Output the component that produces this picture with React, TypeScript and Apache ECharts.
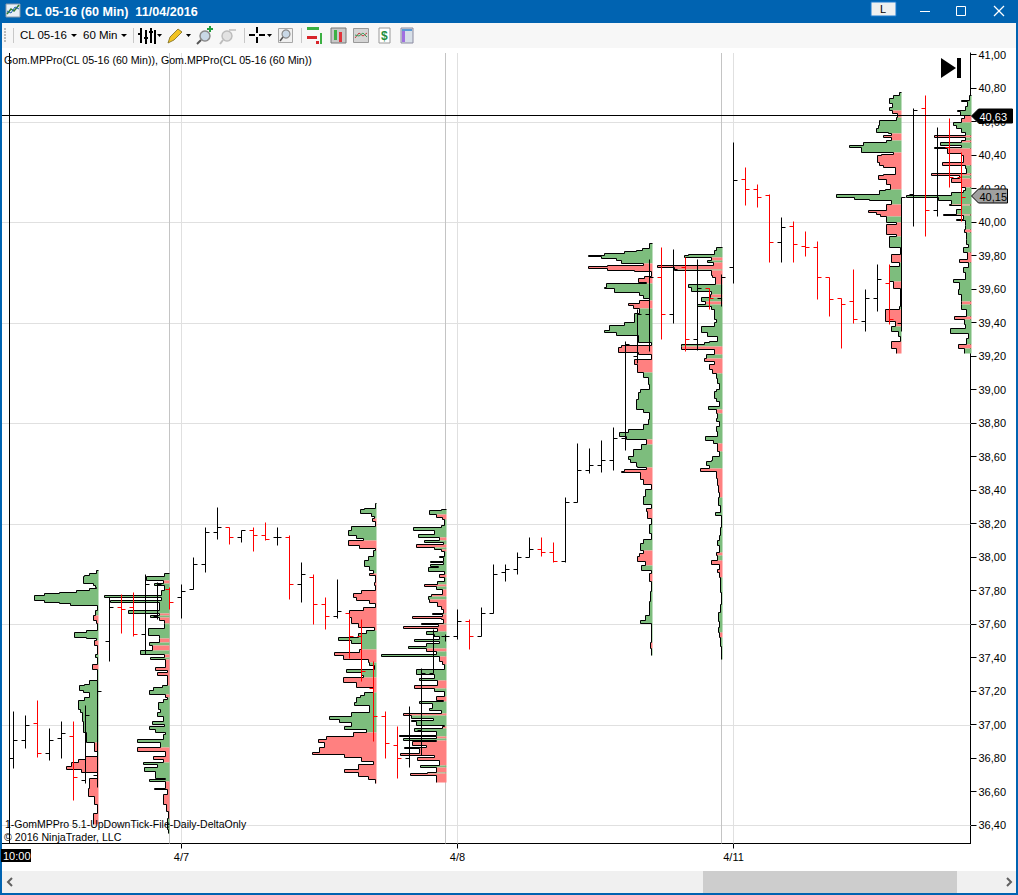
import React, { useEffect, useRef } from "react";
import * as echarts from "echarts";

// ---------- hourly OHLC bars (one per 12 px slot) ----------
const barOpen = [36.80,36.91,37.01,36.83,36.92,36.93,36.67,36.70,37.50,37.70,37.70,37.54,37.65,37.81,37.76,37.81,37.96,38.15,38.18,38.12,38.16,38.13,38.12,38.12,37.84,37.88,37.72,37.65,37.67,37.53,37.22,37.05,36.88,36.80,36.97,37.31,37.53,37.53,37.62,37.53,37.67,37.91,37.93,38.00,38.05,38.03,37.98,38.33,38.52,38.55,38.58,38.71,39.20,39.45,39.67,39.45,39.73,39.30,39.61,39.55,39.73,40.26,40.20,40.16,39.88,39.98,39.86,39.85,39.67,39.55,39.53,39.41,39.55,39.64,39.40,40.17,40.68,40.07,40.45,40.27];
const barHigh = [37.08,37.06,37.15,36.98,37.02,37.02,37.12,37.27,37.76,37.78,37.79,37.90,37.85,37.82,37.84,38.00,38.18,38.30,38.18,38.16,38.18,38.21,38.18,38.13,37.97,37.90,37.76,37.87,37.67,37.63,37.38,37.08,36.99,37.11,37.34,37.57,37.54,37.69,37.63,37.70,37.96,37.96,38.03,38.12,38.12,38.09,38.36,38.68,38.65,38.70,38.78,39.29,39.48,39.78,39.85,39.84,39.79,39.78,39.61,39.69,40.48,40.33,40.23,40.17,40.03,40.01,39.95,39.89,39.67,39.55,39.72,39.60,39.75,39.75,40.15,40.68,40.76,40.57,40.62,40.42];
const barLow = [36.74,36.86,36.81,36.79,36.80,36.55,36.65,36.63,37.38,37.55,37.53,37.42,37.63,37.69,37.64,37.81,37.91,38.11,38.08,38.09,38.04,38.10,38.07,37.75,37.73,37.60,37.57,37.64,37.40,37.26,36.90,36.80,36.68,36.75,36.82,37.31,37.50,37.51,37.45,37.53,37.67,37.86,37.90,38.00,38.01,37.97,37.97,38.33,38.50,38.51,38.52,38.64,39.16,39.23,39.30,39.40,39.23,39.24,39.48,39.50,39.64,40.10,40.09,39.76,39.76,39.76,39.80,39.54,39.44,39.25,39.40,39.35,39.47,39.39,39.35,39.98,39.92,40.04,40.21,40.01];
const barClose = [36.91,37.00,36.83,36.91,36.95,36.69,37.06,37.20,37.70,37.69,37.54,37.84,37.84,37.73,37.80,37.96,38.15,38.18,38.12,38.16,38.13,38.11,38.12,37.84,37.90,37.72,37.65,37.68,37.53,37.32,37.05,36.89,36.80,37.07,37.31,37.53,37.53,37.62,37.53,37.67,37.90,37.93,38.00,38.05,38.03,37.98,38.33,38.52,38.55,38.58,38.71,39.27,39.45,39.67,39.45,39.72,39.30,39.61,39.55,39.67,40.25,40.20,40.15,39.88,39.97,39.87,39.85,39.67,39.54,39.51,39.42,39.55,39.66,39.42,40.15,40.67,40.07,40.44,40.27,40.15];

// ---------- market profiles: [ticks below the profile's top, signed volume] ----------
const profile1A = [[0,2],[2,9],[3,14],[4,15],[8,5],[9,3],[10,2],[11,9],[12,22],[13,39],[14,54],[15,64],[18,54],[19,39],[20,28],[21,1],[24,3],[27,-5],[30,-2],[32,1],[36,12],[37,24],[40,12],[41,2],[42,-4],[45,-1],[50,3],[52,1],[56,-6],[59,1],[66,9],[68,14],[69,19],[72,15],[73,9],[76,14],[78,20],[83,18],[85,16],[90,15],[97,12],[103,-4],[108,1],[111,-13],[113,-20],[115,-27],[117,-32],[119,-17],[121,-1],[124,-9],[130,-10],[135,-4],[140,-1],[145,-5],[152,0]];
const profile1B = [[0,5],[2,23],[4,-6],[6,15],[7,5],[10,8],[13,65],[14,8],[16,59],[17,10],[22,41],[24,-10],[25,19],[26,-10],[28,-5],[30,5],[33,21],[37,10],[39,-10],[41,20],[43,-17],[46,29],[48,-5],[50,19],[51,-4],[56,-14],[58,-2],[59,-12],[61,-2],[67,7],[68,16],[70,20],[72,-4],[74,2],[75,6],[77,11],[81,9],[83,12],[85,6],[88,17],[90,5],[91,20],[93,14],[95,4],[96,6],[99,32],[101,9],[104,-32],[106,-4],[109,-16],[111,-6],[113,26],[114,12],[116,25],[118,14],[122,4],[123,20],[124,-4],[128,-15],[129,-2],[132,-6],[138,-3],[142,-1],[146,2],[153,1],[155,0]];
const profile2A = [[0,1],[3,12],[4,16],[6,5],[8,2],[9,-4],[11,-1],[14,25],[16,28],[19,20],[21,13],[22,-28],[25,-17],[27,-1],[28,3],[32,8],[34,12],[38,7],[40,3],[42,-7],[43,-1],[47,-2],[49,-1],[52,-15],[54,-23],[56,-20],[58,-7],[60,-1],[62,-13],[64,-27],[68,-25],[72,-18],[74,-2],[76,10],[78,18],[80,38],[82,25],[84,15],[87,-17],[89,-42],[91,-33],[93,-8],[95,7],[97,2],[99,30],[101,15],[103,13],[104,-33],[107,-20],[110,-3],[113,12],[115,16],[116,20],[119,22],[121,7],[125,25],[127,47],[129,37],[131,25],[133,32],[135,10],[137,-23],[139,-50],[141,-58],[143,-52],[146,-57],[149,-64],[150,-32],[152,-15],[154,-3],[156,-18],[159,-32],[161,-18],[163,-8],[165,-1],[167,0]];
const profile2B = [[0,5],[1,17],[3,-10],[5,-4],[6,2],[10,5],[11,33],[13,12],[15,28],[17,-7],[19,22],[20,3],[21,-30],[23,12],[24,-5],[25,2],[28,7],[29,3],[31,16],[32,3],[33,16],[34,8],[35,18],[37,2],[39,-7],[41,2],[43,9],[45,-22],[46,10],[48,-4],[51,-15],[52,18],[54,-17],[56,-9],[58,-5],[60,-3],[62,14],[63,-4],[64,-34],[65,-5],[66,-3],[68,25],[69,-8],[70,-43],[71,-9],[73,20],[75,12],[76,7],[78,32],[79,7],[80,20],[82,38],[83,-20],[85,10],[87,65],[88,-7],[91,-4],[93,2],[96,30],[99,12],[101,27],[102,-9],[105,-32],[107,12],[109,2],[112,-10],[114,-3],[115,27],[116,14],[119,17],[120,5],[122,-43],[123,35],[125,13],[126,35],[127,30],[129,2],[130,-4],[131,32],[133,10],[135,47],[136,-10],[137,43],[138,-10],[139,-34],[141,-20],[142,-42],[143,-27],[146,-46],[147,-12],[148,-29],[150,-7],[153,26],[154,-10],[157,19],[158,-36],[159,-10],[163,0]];
const profile3A = [[0,3],[3,10],[4,16],[5,28],[6,48],[7,64],[8,51],[9,36],[10,31],[12,-9],[13,-45],[14,-64],[15,-45],[16,-18],[17,-1],[20,-8],[21,-14],[23,-6],[24,46],[26,48],[27,38],[29,13],[31,9],[33,3],[34,-13],[36,-24],[37,-19],[39,13],[42,18],[47,28],[49,43],[52,48],[53,36],[55,14],[59,1],[61,-31],[62,-34],[65,-14],[66,-1],[69,-18],[72,-15],[77,9],[80,4],[84,3],[87,12],[89,14],[93,16],[99,9],[101,3],[105,4],[108,9],[111,24],[113,33],[115,26],[117,-6],[120,11],[123,19],[127,24],[129,22],[131,16],[133,15],[134,-6],[135,-28],[136,-31],[137,-12],[141,-9],[144,-1],[147,7],[151,9],[156,1],[158,-6],[160,-5],[164,1],[168,3],[173,1],[177,9],[179,12],[183,-9],[185,-13],[187,-15],[190,-7],[192,11],[195,1],[197,-3],[202,1],[208,2],[214,3],[222,7],[225,12],[227,1],[238,-2],[242,1],[246,0]];
const profile3B = [[0,6],[2,8],[4,34],[5,38],[6,-11],[8,15],[9,-9],[11,-65],[12,-48],[13,48],[14,-11],[17,-10],[18,-7],[22,34],[24,31],[26,11],[28,-12],[30,21],[32,-17],[34,25],[35,11],[37,8],[43,6],[45,8],[47,21],[51,15],[53,5],[56,13],[57,18],[58,41],[59,-41],[61,-8],[64,16],[66,-18],[68,-8],[70,-13],[73,-10],[75,6],[78,5],[81,3],[85,6],[86,8],[90,6],[92,3],[95,14],[97,-6],[99,5],[102,6],[104,3],[107,6],[110,5],[113,17],[115,9],[117,-5],[122,3],[125,10],[127,11],[128,16],[130,13],[132,-22],[134,-6],[138,-5],[142,-4],[146,-3],[149,4],[154,2],[158,7],[160,1],[167,2],[172,3],[175,5],[178,3],[182,-6],[184,5],[187,-11],[189,-3],[192,-5],[194,-3],[197,2],[206,1],[213,2],[218,4],[223,3],[227,4],[230,-3],[233,2],[238,1],[246,0]];
const profile4A = [[0,2],[2,8],[4,12],[7,9],[9,12],[11,-9],[13,-4],[15,5],[17,22],[20,23],[22,25],[24,13],[25,-10],[26,-18],[27,-10],[29,15],[30,38],[32,52],[33,40],[36,-8],[37,-20],[38,-24],[42,-22],[44,-18],[45,-6],[49,-18],[50,-23],[52,-15],[55,-11],[58,16],[59,22],[61,65],[63,47],[64,32],[65,10],[67,-15],[71,-33],[72,-25],[73,-21],[74,15],[78,-5],[79,-15],[85,-5],[86,12],[93,1],[97,-10],[102,2],[104,12],[113,-8],[117,1],[128,2],[130,-16],[137,-6],[140,10],[143,3],[146,1],[149,-10],[153,-5],[156,0]];
const profile4B = [[0,2],[3,10],[4,4],[7,6],[9,14],[10,11],[12,-7],[14,-10],[16,18],[18,15],[20,10],[22,6],[24,-37],[25,6],[27,-10],[28,31],[30,10],[31,37],[32,-24],[35,-10],[36,-8],[40,-29],[42,6],[44,5],[47,-40],[48,12],[50,-20],[52,-10],[55,6],[57,8],[58,20],[60,65],[61,33],[63,20],[65,-22],[66,10],[68,15],[71,-28],[72,8],[74,15],[75,6],[78,6],[80,-7],[82,5],[86,5],[89,3],[91,8],[94,-4],[98,-12],[100,3],[103,8],[106,6],[110,18],[112,12],[116,13],[119,10],[123,-10],[125,10],[128,5],[132,-17],[134,7],[137,6],[139,21],[142,3],[145,5],[149,-13],[151,7],[154,0]];
const profileRows = [profile1A, profile1B, profile2A, profile2B, profile3A, profile3B, profile4A, profile4B];
const profileTops = [37.925, 37.905, 38.325, 38.29, 39.876, 39.852, 40.78, 40.761];
const profileEdges = [7.08, 12.96, 30.17, 36, 53.17, 59, 73.92, 79.75];

// ---------- axes ----------
const priceTicks = [36.4,36.6,36.8,37.0,37.2,37.4,37.6,37.8,38.0,38.2,38.4,38.6,38.8,39.0,39.2,39.4,39.6,39.8,40.0,40.2,40.4,40.6,40.8,41.0];
const gridPrices = [36.4,37.0,37.6,38.2,38.8,39.4,40.0,40.6];
const sessionEnds = [13, 36, 59];
const dayTicks = [14, 37, 60];
const dayLabels = ["4/7", "4/8", "4/11"];
const cursorBar = -0.37;
const cursorPrice = 40.63;
const lastPrice = 40.15;

const GREEN = "#7DBD7D";
const RED = "#FF8080";
const BLUE = "#0063B1";
const UI = "'Liberation Sans', Arial, sans-serif";
const fmt = (v: number) => v.toFixed(2).replace(".", ",");

function g(type: string, shape: any, style: any, extra: any = {}) {
  return { type, shape, style, z: 100, silent: true, ...extra };
}
function txt(text: string, x: number, y: number, font: string, fill = "#000", align = "left") {
  return { type: "text", x, y, z: 101, silent: true, style: { text, font, fill, align, verticalAlign: "middle" } };
}
const rect = (x: number, y: number, width: number, height: number, fill: string, stroke?: string) =>
  g("rect", { x, y, width, height }, { fill, stroke: stroke || undefined, lineWidth: 1 });
const line = (x1: number, y1: number, x2: number, y2: number, stroke: string, lineWidth = 1) =>
  g("line", { x1, y1, x2, y2 }, { stroke, lineWidth });
const poly = (points: number[][], fill: string) => g("polygon", { points }, { fill });
const pline = (points: number[][], stroke: string, lineWidth = 1) =>
  g("polyline", { points }, { stroke, lineWidth, fill: "none" });

function chrome() {
  const e: any[] = [];
  // window frame
  e.push(rect(0, 0, 1018, 23, BLUE));
  e.push(rect(0, 0, 2, 895, BLUE));
  e.push(rect(1016, 0, 2, 895, BLUE));
  e.push(rect(0, 893, 1018, 2, BLUE));
  // title
  e.push(rect(6, 4, 14, 13, "#E8EEF5", "#8899AA"));
  e.push(pline([[7, 14], [11, 9], [14, 11], [19, 5]], "#2E7D32", 1.5));
  e.push(pline([[7, 11], [11, 13], [15, 7], [19, 9]], "#1E5FB0", 1));
  e.push(txt("CL 05-16 (60 Min)  11/04/2016", 25, 12, "bold 12.6px " + UI, "#fff"));
  // window buttons
  e.push(rect(871, 2, 25, 14, "#F0F0F0", "#1A7AD0"));
  e.push(txt("L", 880, 9, "11px " + UI));
  e.push(line(920, 11.5, 930, 11.5, "#fff"));
  e.push(g("rect", { x: 956.5, y: 6.5, width: 9, height: 9 }, { fill: "none", stroke: "#fff", lineWidth: 1 }));
  e.push(line(994, 6, 1004, 16, "#fff", 1.2));
  e.push(line(1004, 6, 994, 16, "#fff", 1.2));
  // toolbar
  e.push(rect(2, 23, 1014, 25, "#F7F7F7"));
  for (let y = 28; y < 43; y += 3) e.push(rect(4, y, 2, 2, "#BBBBBB"));
  [13, 133, 244, 301].forEach((x) => e.push(line(x + 0.5, 28, x + 0.5, 43, "#C8C8C8")));
  e.push(txt("CL 05-16", 20, 35, "11.5px " + UI));
  e.push(poly([[71, 34], [77, 34], [74, 37]], "#000"));
  e.push(txt("60 Min", 83, 35, "11.5px " + UI));
  e.push(poly([[121, 34], [127, 34], [124, 37]], "#000"));
  // bars icon
  [140, 145, 150, 154].forEach((x, i) => e.push(rect(x, 28 + (i % 2) * 2, 2, 15 - (i % 2), "#000")));
  e.push(rect(138, 33, 4, 2, "#000"), rect(144, 37, 4, 2, "#000"), rect(149, 31, 4, 2, "#000"));
  e.push(poly([[157, 34], [162, 34], [159.5, 37]], "#000"));
  // pencil
  e.push(poly([[168, 43], [170, 37], [178, 29], [182, 32], [174, 40]], "#F2C320"));
  e.push(pline([[168, 43], [170, 37], [178, 29], [182, 32], [174, 40], [168, 43]], "#7A6A20", 0.8));
  e.push(poly([[186, 34], [191, 34], [188.5, 37]], "#000"));
  // magnifiers
  e.push(g("circle", { cx: 205, cy: 36, r: 5 }, { fill: "#C9D8E6", stroke: "#8A8A8A", lineWidth: 1.5 }));
  e.push(line(201, 40, 197, 44, "#555", 2));
  e.push(rect(207, 28, 6, 2, "#1E9E3E"), rect(209, 26, 2, 6, "#1E9E3E"));
  e.push(g("circle", { cx: 227, cy: 36, r: 5 }, { fill: "#E2E2E2", stroke: "#BDBDBD", lineWidth: 1.5 }));
  e.push(line(223, 40, 220, 44, "#BDBDBD", 2));
  e.push(rect(229, 29, 7, 2, "#CCCCCC"));
  // crosshair
  e.push(rect(249, 34, 6, 2, "#000"), rect(259, 34, 6, 2, "#000"), rect(256, 27, 2, 6, "#000"), rect(256, 37, 2, 6, "#000"));
  e.push(poly([[267, 34], [272, 34], [269.5, 37]], "#000"));
  // zoom box
  e.push(rect(278.5, 28.5, 14, 14, "#F0F0F0", "#A8A8A8"));
  e.push(g("circle", { cx: 286, cy: 34, r: 4 }, { fill: "#C9D8E6", stroke: "#8A8A8A", lineWidth: 1.2 }));
  e.push(line(283, 37, 280, 41, "#555", 1.5));
  // right hand icons
  e.push(rect(307, 27, 12, 3, "#3CB043"), rect(307, 36, 10, 3, "#D8242A"), rect(320, 33, 2, 11, "#3CB043"), rect(316, 41, 3, 3, "#D8242A"));
  e.push(rect(331, 28, 15, 15, "#C8C8C8", "#777"));
  e.push(rect(334, 30, 3, 10, "#3CB043"), rect(339, 32, 3, 10, "#E0343A"));
  e.push(rect(353.5, 28.5, 15, 14, "#D5D5D5", "#999"));
  e.push(pline([[355, 38], [359, 33], [363, 36], [367, 33]], "#C04040", 1));
  e.push(pline([[355, 35], [359, 36], [363, 33], [367, 37]], "#40A060", 1));
  e.push(rect(379, 28, 11, 15, "#FFFFFF", "#999"));
  e.push(txt("$", 381, 36, "bold 12px " + UI, "#1E8E3E"));
  e.push(rect(401, 28, 12, 15, "#D7DFE8", "#8A8AA0"));
  e.push(rect(402, 31, 3, 11, "#A070E0"), rect(402, 29, 10, 2, "#5B9BD5"));
  // chart captions
  e.push(txt("Gom.MPPro(CL 05-16 (60 Min)), Gom.MPPro(CL 05-16 (60 Min))", 4, 60, "10.65px " + UI));
  e.push(txt("1-GomMPPro 5.1-UpDownTick-File-Daily-DeltaOnly", 5, 824, "10.5px " + UI));
  e.push(txt("© 2016 NinjaTrader, LLC", 4, 837, "10.65px " + UI));
  // go to end icon
  e.push(poly([[941, 58], [956, 68], [941, 78]], "#000"));
  e.push(rect(957, 58, 4, 20, "#000"));
  // crosshair time label
  e.push(rect(1, 849, 30, 13, "#000"));
  e.push(txt("10:00", 3, 856, "11px " + UI, "#fff"));
  // scrollbar
  e.push(rect(2, 871, 1014, 22, "#F0F0F0"));
  e.push(rect(703, 871, 254, 22, "#CDCDCD"));
  e.push(pline([[12, 878], [8, 882], [12, 886]], "#606060", 2));
  e.push(pline([[1007, 878], [1011, 882], [1007, 886]], "#606060", 2));
  return e;
}

export default function App() {
  const ref = useRef<HTMLDivElement>(null);
  useEffect(() => {
    document.body.style.margin = "0";
    const chart = echarts.init(ref.current!, undefined, { renderer: "svg" });

    const series: any[] = [];
    // grid lines
    series.push({
      type: "custom", z: 1, silent: true, clip: false,
      data: gridPrices.map((p) => [0, p]),
      renderItem: (params: any, api: any) => {
        const c = params.coordSys;
        const y = Math.round(api.coord([0, api.value(1)])[1]) + 0.5;
        return { type: "line", shape: { x1: c.x, y1: y, x2: c.x + c.width, y2: y }, style: { stroke: "#E0E0E0", lineWidth: 1 } };
      },
    });
    series.push({
      type: "custom", z: 1, silent: true,
      data: [...sessionEnds.map((i) => [i, 1]), ...dayTicks.map((i) => [i, 0])],
      renderItem: (params: any, api: any) => {
        const c = params.coordSys;
        const x = Math.round(api.coord([api.value(0), 40])[0] - 0.5) + 0.5;
        return { type: "line", shape: { x1: x, y1: c.y, x2: x, y2: c.y + c.height }, style: { stroke: api.value(1) ? "#C4C4C4" : "#E0E0E0", lineWidth: 1 } };
      },
    });
    // profiles
    series.push({
      type: "custom", z: 2, silent: true, clip: false,
      data: profileRows.map((_, i) => [profileEdges[i], profileTops[i]]),
      renderItem: (params: any, api: any) => {
        const rows = profileRows[params.dataIndex];
        const edge = api.value(0);
        const top = api.value(1);
        const children: any[] = [];
        const X = (vol: number) => Math.round(api.coord([edge - Math.abs(vol) / 12, 40])[0]) + 0.5;
        const Y = (off: number) => Math.round(api.coord([0, top - off * 0.01])[1]) + 0.5;
        const right = X(0);
        let k = 0;
        while (k < rows.length - 1) {
          const sign = Math.sign(rows[k][1]);
          const pts: number[][] = [[right, Y(rows[k][0])]];
          let m = k;
          while (m < rows.length - 1 && Math.sign(rows[m][1]) === sign) {
            pts.push([X(rows[m][1]), Y(rows[m][0])], [X(rows[m][1]), Y(rows[m + 1][0])]);
            m++;
          }
          pts.push([right, Y(rows[m][0])]);
          if (sign !== 0) children.push({ type: "polygon", shape: { points: pts }, style: { fill: sign > 0 ? GREEN : RED } });
          k = m;
        }
        const outline: number[][] = [[right, Y(0)]];
        for (let r = 0; r < rows.length - 1; r++) {
          outline.push([X(rows[r][1]), Y(rows[r][0])], [X(rows[r][1]), Y(rows[r + 1][0])]);
        }
        children.push({ type: "polyline", shape: { points: outline }, style: { fill: "none", stroke: "#000", lineWidth: 1 } });
        return { type: "group", children };
      },
    });
    // OHLC bars
    series.push({
      type: "custom", z: 3, silent: true,
      data: barOpen.map((o, i) => [i, o, barHigh[i], barLow[i], barClose[i]]),
      renderItem: (_p: any, api: any) => {
        const i = api.value(0), o = api.value(1), h = api.value(2), l = api.value(3), c = api.value(4);
        const stroke = c < o ? "#FF0000" : "#000000";
        const x = api.coord([i, o])[0];
        const yy = (v: number) => Math.round(api.coord([i, v])[1]) + 0.5;
        const st = { stroke, lineWidth: 1 };
        return {
          type: "group",
          children: [
            { type: "line", shape: { x1: x, y1: yy(h), x2: x, y2: yy(l) }, style: st },
            { type: "line", shape: { x1: x - 4, y1: yy(o), x2: x, y2: yy(o) }, style: st },
            { type: "line", shape: { x1: x, y1: yy(c), x2: x + 4, y2: yy(c) }, style: st },
          ],
        };
      },
    });
    // crosshair
    series.push({
      type: "custom", z: 4, silent: true,
      data: [[cursorBar, cursorPrice]],
      renderItem: (params: any, api: any) => {
        const c = params.coordSys;
        const p = api.coord([api.value(0), api.value(1)]);
        const x = Math.round(p[0]) + 0.5, y = Math.round(p[1]) - 1.5;
        const st = { stroke: "#000", lineWidth: 1 };
        return {
          type: "group",
          children: [
            { type: "line", shape: { x1: x, y1: c.y, x2: x, y2: c.y + c.height }, style: st },
            { type: "line", shape: { x1: c.x, y1: y, x2: c.x + c.width, y2: y }, style: st },
          ],
        };
      },
    });
    // price tags
    series.push({
      type: "custom", z: 5, silent: true, clip: false,
      data: [[cursorPrice, 0], [lastPrice, 1]],
      renderItem: (params: any, api: any) => {
        const price = api.value(0);
        const gray = api.value(1) === 1;
        const c = params.coordSys;
        const y = Math.round(api.coord([0, price])[1]) - 1;
        const tip = c.x + c.width + 1;
        const w = gray ? 36 : 41;
        const pts = [[tip, y], [tip + 7, y - 7], [tip + w, y - 7], [tip + w, y + 7], [tip + 7, y + 7]];
        return {
          type: "group",
          children: [
            { type: "polygon", shape: { points: pts }, style: { fill: gray ? "#A0A0A0" : "#000", stroke: "#000", lineWidth: 1 } },
            { type: "text", style: { text: fmt(price), x: tip + 8, y: y + 0.5, fill: gray ? "#000" : "#fff", font: "11px " + UI, align: "left", verticalAlign: "middle" } },
          ],
        };
      },
    });

    chart.setOption({
      animation: false,
      backgroundColor: "#fff",
      textStyle: { fontFamily: "Liberation Sans" },
      grid: { left: 2, top: 53, width: 968.5, height: 790.5, containLabel: false },
      xAxis: {
        type: "value",
        min: (2 - 13.5) / 12,
        max: (970.5 - 13.5) / 12,
        splitLine: { show: false },
        axisLine: { onZero: false, lineStyle: { color: "#000", width: 1 } },
        axisTick: { show: true, length: 5, lineStyle: { color: "#000" }, customValues: dayTicks },
        axisLabel: {
          color: "#000", fontSize: 11, margin: 8, fontFamily: "Liberation Sans",
          customValues: dayTicks,
          formatter: (v: number) => dayLabels[dayTicks.indexOf(Math.round(v))] ?? "",
        },
      },
      yAxis: {
        type: "value",
        position: "right",
        min: 36.291,
        max: 41.0101,
        splitLine: { show: false },
        axisLine: { show: true, onZero: false, lineStyle: { color: "#000", width: 1 } },
        axisTick: { show: true, length: 6, lineStyle: { color: "#000" }, customValues: priceTicks },
        axisLabel: {
          color: "#000", fontSize: 11, margin: 8, fontFamily: "Liberation Sans",
          customValues: priceTicks,
          formatter: (v: number) => fmt(v),
        },
      },
      graphic: { elements: chrome() },
      series,
    });
    return () => chart.dispose();
  }, []);
  return <div ref={ref} style={{ position: "fixed", left: 0, top: 0, width: 1018, height: 895 }} />;
}
